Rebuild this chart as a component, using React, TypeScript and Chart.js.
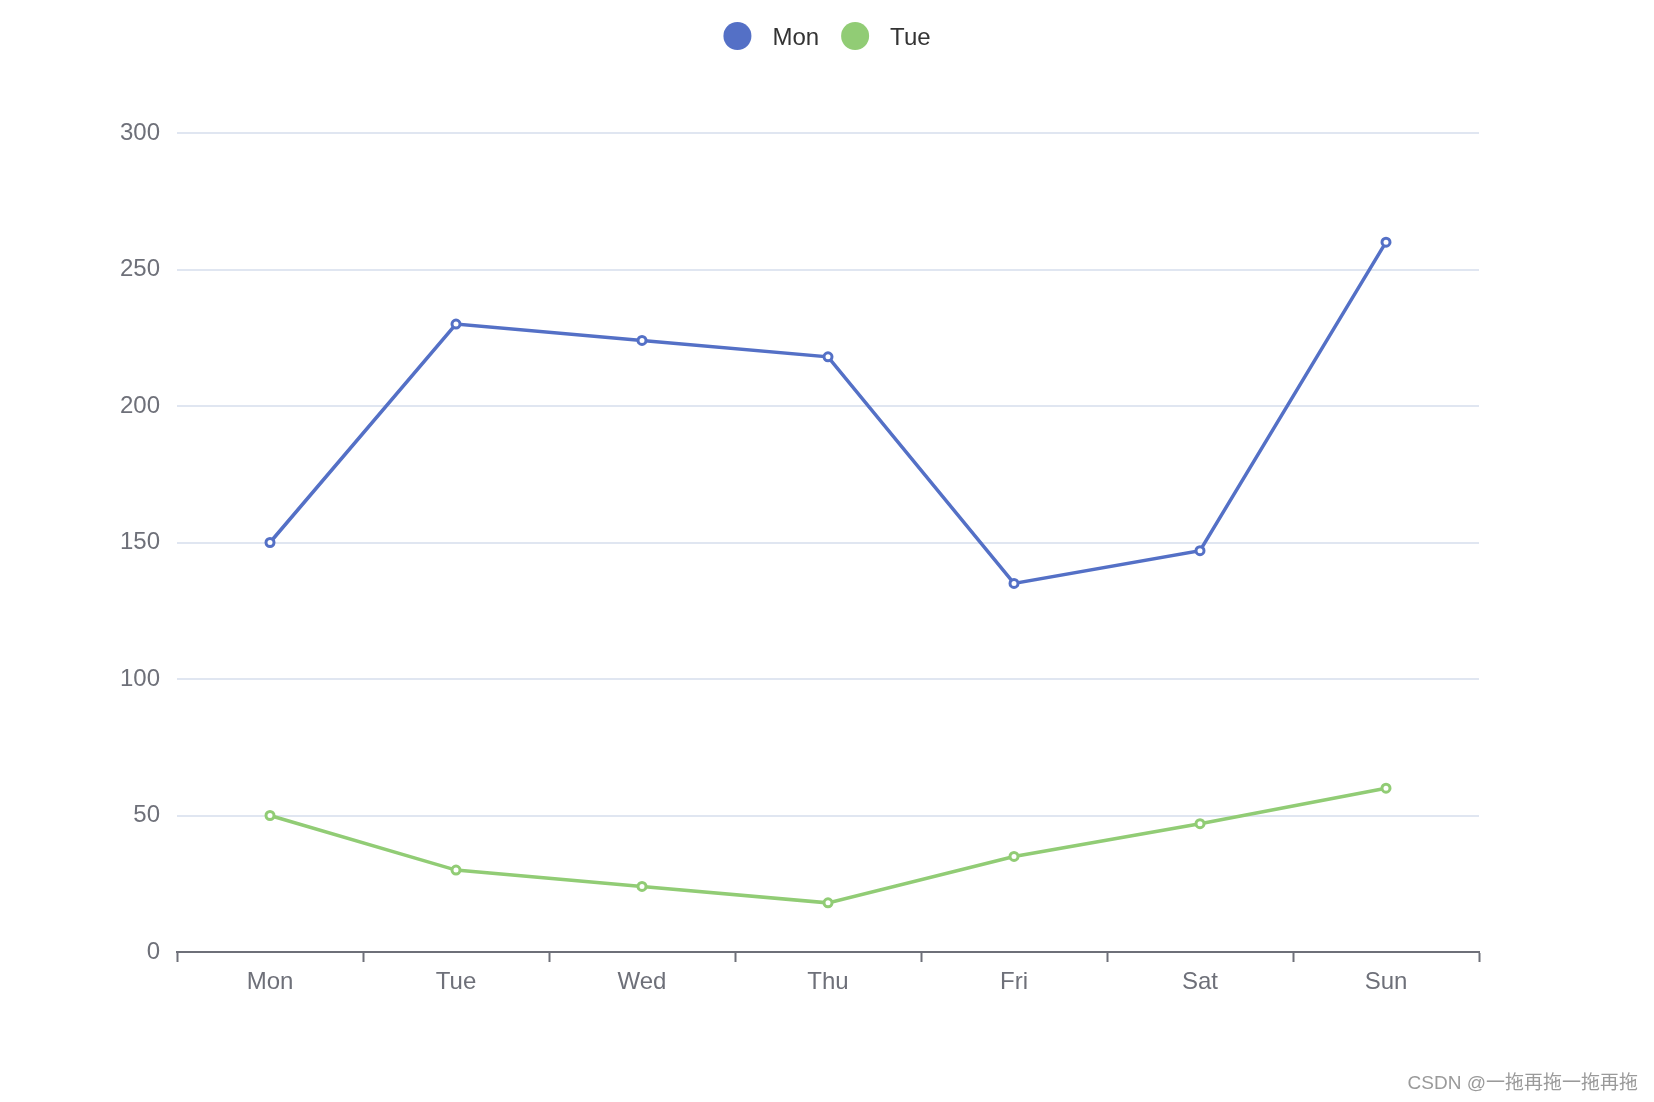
import React, { useEffect, useRef } from "react";
import { Chart, registerables } from "chart.js";

Chart.register(...registerables);

const categories = ["Mon", "Tue", "Wed", "Thu", "Fri", "Sat", "Sun"];
const seriesNames = ["Mon", "Tue"];
const seriesMon = [150, 230, 224, 218, 135, 147, 260];
const seriesTue = [50, 30, 24, 18, 35, 47, 60];
const seriesColors = ["#5470C6", "#91CC75"];
const yTicks = [0, 50, 100, 150, 200, 250, 300];
const watermark = "CSDN @一拖再拖一拖再拖";

const FONT = "'Liberation Sans', Arial, sans-serif";

const legendPlugin = {
  id: "echartsLegend",
  afterDraw(chart: any) {
    const ctx = chart.ctx;
    ctx.save();
    ctx.font = `24px ${FONT}`;
    ctx.textBaseline = "middle";
    ctx.textAlign = "left";
    const r = 14;
    const gapText = 21;
    const gapItem = 22;
    const items = chart.data.datasets.map((d: any) => ({
      label: d.label,
      color: d.borderColor,
      w: ctx.measureText(d.label).width,
    }));
    let total = 0;
    items.forEach((it: any, i: number) => {
      total += 2 * r + gapText + it.w + (i < items.length - 1 ? gapItem : 0);
    });
    let x = chart.width / 2 - total / 2;
    const y = 36;
    items.forEach((it: any) => {
      ctx.beginPath();
      ctx.arc(x + r, y, r, 0, Math.PI * 2);
      ctx.fillStyle = it.color;
      ctx.fill();
      x += 2 * r + gapText;
      ctx.fillStyle = "#333333";
      ctx.fillText(it.label, x, y + 2);
      x += it.w + gapItem;
    });
    ctx.restore();
  },
};

export default function App() {
  const ref = useRef<HTMLCanvasElement>(null);

  useEffect(() => {
    document.body.style.margin = "0";
    const canvas = ref.current!;
    const mk = (label: string, data: number[], color: string) => ({
      label,
      data,
      borderColor: color,
      backgroundColor: color,
      borderWidth: 3.5,
      pointRadius: 4,
      pointBorderWidth: 3,
      pointBackgroundColor: "#ffffff",
      pointBorderColor: color,
      tension: 0,
    });
    const chart = new Chart(canvas, {
      type: "line",
      data: {
        labels: categories,
        datasets: [
          mk(seriesNames[0], seriesMon, seriesColors[0]),
          mk(seriesNames[1], seriesTue, seriesColors[1]),
        ],
      },
      options: {
        animation: false,
        responsive: false,
        maintainAspectRatio: false,
        layout: { padding: { top: 133, right: 175, left: 0, bottom: 0 } },
        plugins: {
          legend: { display: false },
          tooltip: { enabled: false },
        },
        scales: {
          x: {
            type: "category",
            offset: true,
            grid: {
              offset: true,
              drawOnChartArea: false,
              drawTicks: true,
              tickLength: 10,
              tickWidth: 2,
              tickColor: "#6E7079",
            },
            border: { display: true, color: "#6E7079", width: 2 },
            ticks: {
              color: "#6E7079",
              font: { family: FONT, size: 24 },
              padding: 6,
              maxRotation: 0,
            },
            afterFit: (s: any) => {
              s.height = 1102 - 952;
            },
          },
          y: {
            min: yTicks[0],
            max: yTicks[yTicks.length - 1],
            afterBuildTicks: (s: any) => {
              s.ticks = yTicks.map((v) => ({ value: v }));
            },
            grid: {
              color: "#E0E6F1",
              lineWidth: 2,
              drawTicks: false,
            },
            border: { display: false },
            ticks: {
              color: "#6E7079",
              font: { family: FONT, size: 24 },
              padding: 17,
            },
            afterFit: (s: any) => {
              s.width = 177;
            },
          },
        },
      },
      plugins: [legendPlugin],
    } as any);
    return () => chart.destroy();
  }, []);

  return (
    <div style={{ position: "relative", width: 1654, height: 1102, background: "#fff" }}>
      <canvas ref={ref} width={1654} height={1102} style={{ width: 1654, height: 1102, display: "block" }} />
      <div
        style={{
          position: "absolute",
          right: 16,
          top: 1071,
          fontSize: 19,
          color: "#9a9a9a",
          fontFamily: "'Liberation Sans', 'Noto Sans CJK SC', sans-serif",
          whiteSpace: "nowrap",
          lineHeight: "24px",
        }}
      >
        {watermark}
      </div>
    </div>
  );
}
